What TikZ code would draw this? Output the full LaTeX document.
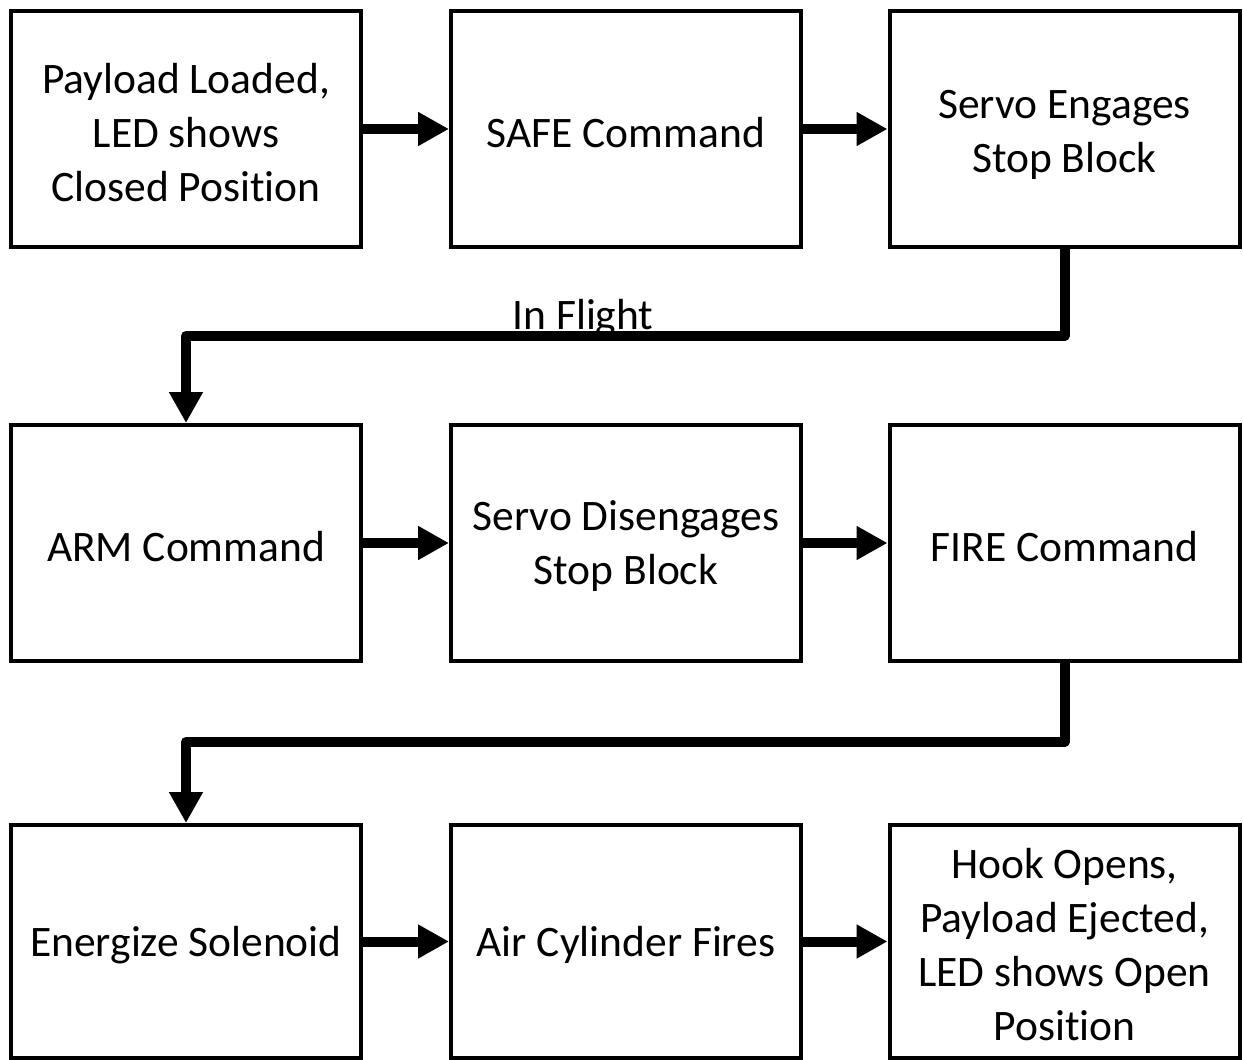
\documentclass[tikz,border=0pt]{standalone}
\usepackage{fontspec}
\setmainfont[Ligatures=NoCommon]{Carlito}
\usetikzlibrary{arrows.meta}
\begin{document}
\begin{tikzpicture}[x=1pt,y=-1pt,
  box/.style={draw, line width=4pt, minimum width=350pt, minimum height=236pt, inner sep=0pt},
  txt/.style={inner sep=0pt, align=center, font=\fontsize{43.5}{54}\selectfont, yshift=-3.5pt},
  arr/.style={line width=10pt, -{Triangle[length=31pt,width=32pt]}},
  conn/.style={line width=10pt, line join=round, -{Triangle[length=31pt,width=32pt]}}]
\useasboundingbox (0,0) rectangle (1243,1060);
\fill[white] (0,0) rectangle (1243,1060);
% row 1
\node[box] (a) at (186,129) {};
\node[box] (b) at (626,129) {};
\node[box] (c) at (1064.5,129) {};
% row 2
\node[box] (d) at (186,543) {};
\node[box] (e) at (626,543) {};
\node[box] (f) at (1064.5,543) {};
% row 3
\node[box, minimum height=233pt] (g) at (186,941.5) {};
\node[box, minimum height=233pt] (h) at (626,941.5) {};
\node[box, minimum height=233pt] (i) at (1064.5,941.5) {};
% texts
\node[txt] (ta) at (a.center) {Payload Loaded,\\LED shows\\Closed Position};
\node[txt] (tb) at (b.center) {SAFE Command};
\node[txt, yshift=-2pt] (tc) at (c.center) {Servo Engages\\Stop Block};
\node[txt] (td) at (d.center) {ARM Command};
\node[txt] (te) at (e.center) {Servo Disengages\\Stop Block};
\node[txt] (tf) at (f.center) {FIRE Command};
\node[txt] (tg) at (g.center) {Energize Solenoid};
\node[txt] (th) at (h.center) {Air Cylinder Fires};
\node[txt] (ti) at (i.center) {Hook Opens,\\Payload Ejected,\\LED shows Open\\Position};
% horizontal arrows
\draw[arr] (a.east) -- (b.west);
\draw[arr] (b.east) -- (c.west);
\draw[arr] (d.east) -- (e.west);
\draw[arr] (e.east) -- (f.west);
\draw[arr] (g.east) -- (h.west);
\draw[arr] (h.east) -- (i.west);
% connectors
\coordinate (m1) at (0,336);
\coordinate (m2) at (0,742);
\draw[conn] (c.south) -- (c.south |- m1) -- (d.north |- m1) -- (d.north);
\draw[conn] (f.south) -- (f.south |- m2) -- (g.north |- m2) -- (g.north);
\node[anchor=base, font=\fontsize{43.5}{54}\selectfont, inner sep=0pt] (lbl) at (583,329) {In Flight};
\end{tikzpicture}
\end{document}
